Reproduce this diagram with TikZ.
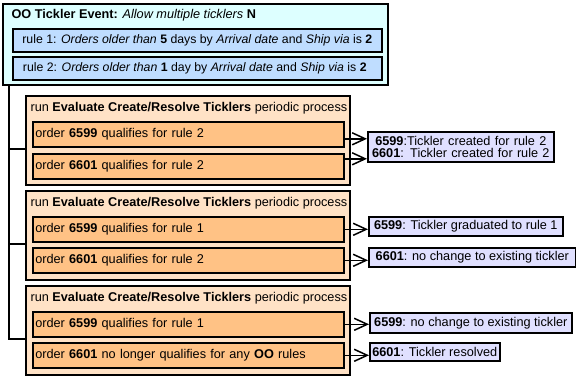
\documentclass[tikz,border=0pt]{standalone}
\usepackage{fontspec}
\setmainfont{Liberation Sans}
\usepackage{tikz}
\usetikzlibrary{arrows.meta,positioning}
\definecolor{tkcyan}{HTML}{DDFFFF}
\definecolor{tkblue}{HTML}{BFDDFF}
\definecolor{tkpeach}{HTML}{FFE2C6}
\definecolor{tkorange}{HTML}{FFC285}
\definecolor{tklavender}{HTML}{E0E0FF}

\begin{document}
\begin{tikzpicture}[x=1pt,y=-1pt,font=\fontsize{12.7}{12.5}\selectfont,
  box/.style={draw,line width=1.6pt,anchor=north west,inner xsep=2.5pt,inner ysep=0pt,align=left},
  evtbox/.style={box,fill=tkcyan},
  rulebox/.style={box,fill=tkblue,font=\fontsize{12.3}{12.5}\selectfont},
  runbox/.style={box,fill=tkpeach},
  qualbox/.style={box,fill=tkorange},
  outbox/.style={box,fill=tklavender,align=center},
  flow/.style={line width=1.5pt,-{Straight Barb[length=13pt,width=12pt]}},
  trunk/.style={line width=1.6pt}]
  \useasboundingbox (0,0) rectangle (576,379);
  % evenement et regles
  \node[evtbox,minimum width=385pt,minimum height=81pt] (ev) at (2,3) {};
  \node[anchor=base west] (evtitle) at (8,19)
    {\textbf{OO Tickler Event:} \textit{Allow multiple ticklers} \textbf{N}};
  \node[rulebox,minimum width=369pt,minimum height=23pt] (r1) at (12,28)
    {rule 1: \textit{Orders older than} \textbf{5} days by \textit{Arrival date} and \textit{Ship via} is \textbf{2}};
  \node[rulebox,minimum width=369pt,minimum height=23pt] (r2) at (12,56)
    {rule 2: \textit{Orders older than} \textbf{1} day by \textit{Arrival date} and \textit{Ship via} is \textbf{2}\hspace{5pt}};
  % passes du processus periodique
  \foreach \g/\y in {1/95,2/190,3/285} {
    \node[runbox,minimum width=324pt,minimum height=89pt] (g\g) at (25,\y) {};
    \node[anchor=base west] (h\g) at (27,\y+17)
      {run \textbf{Evaluate Create/Resolve Ticklers} periodic process};
  }
  % commandes : nom / y / texte
  \foreach \n/\y/\lab in {%
    q1a/121/{order \textbf{6599} qualifies for rule 2},
    q1b/153/{order \textbf{6601} qualifies for rule 2},
    q2a/216/{order \textbf{6599} qualifies for rule 1},
    q2b/247/{order \textbf{6601} qualifies for rule 2},
    q3a/311/{order \textbf{6599} qualifies for rule 1},
    q3b/342/{order \textbf{6601} no longer qualifies for any \textbf{OO} rules}} {
    \node[qualbox,text width=306pt,minimum height=25pt] (\n) at (32,\y) {\lab};
  }
  % resultats
  \node[outbox,text width=181pt,minimum height=30pt] (o1) at (367,131)
    {\textbf{6599}:Tickler created for rule 2\\\textbf{6601}: Tickler created for rule 2};
  \node[outbox,minimum width=194pt,minimum height=19pt] (o2a) at (368,216)
    {\textbf{6599}: Tickler graduated to rule 1};
  \node[outbox,minimum width=207pt,minimum height=19pt] (o2b) at (368,247)
    {\textbf{6601}: no change to existing tickler};
  \node[outbox,minimum width=202pt,minimum height=20pt] (o3a) at (369,312)
    {\textbf{6599}: no change to existing tickler};
  \node[outbox,minimum width=121pt,minimum height=18pt] (o3b) at (369,342)
    {\textbf{6601}: Tickler resolved};
  % fleches
  \path ([yshift=-4.5pt]q1a.east) coordinate (a1) ([yshift=7.5pt]q1b.east) coordinate (a2);
  \draw[flow] (a1) -- (a1 -| o1.west);
  \draw[flow] (a2) -- (a2 -| o1.west);
  \foreach \n in {2a,2b,3a,3b}
    \draw[flow] (q\n.east) -- (q\n.east -| o\n.west);
  % accolade
  \path ([xshift=7pt]ev.south west) coordinate (t0);
  \foreach \g in {1,2,3}
    \path ([yshift=-9pt]g\g.west) coordinate (b\g);
  \draw[trunk] (t0) |- (b3);
  \draw[trunk] (b1) -- (b1 -| t0);
  \draw[trunk] (b2) -- (b2 -| t0);
\end{tikzpicture}
\end{document}
